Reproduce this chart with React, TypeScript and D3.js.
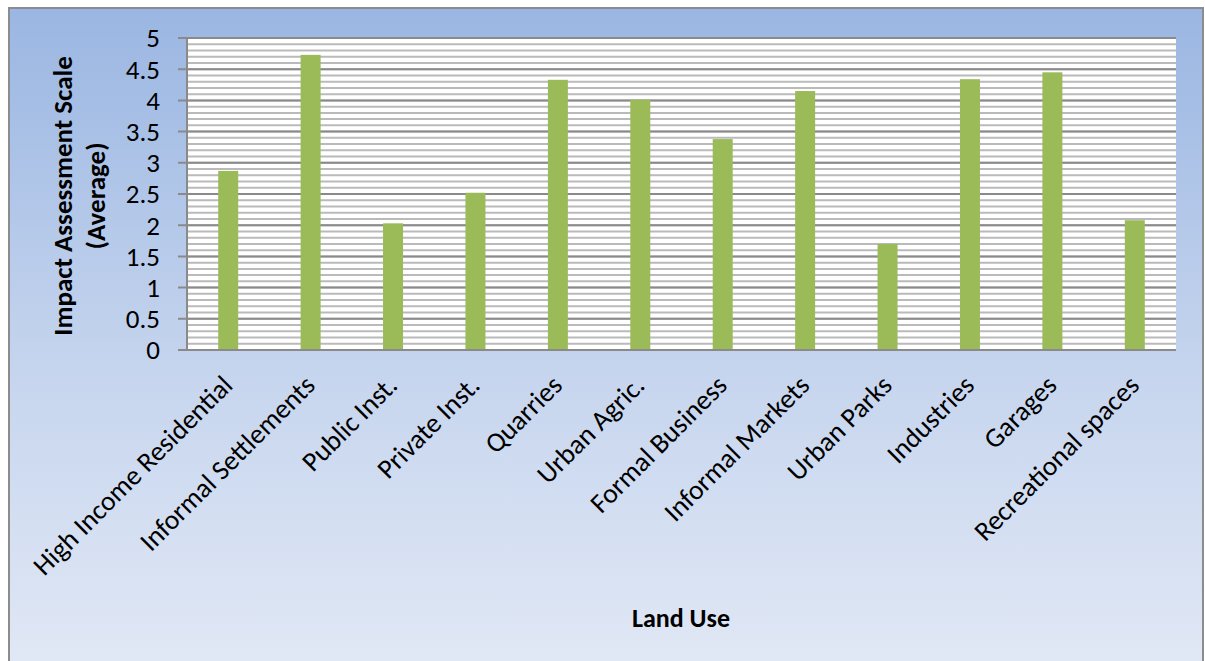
import React from 'react';
import * as d3 from 'd3';

const categories = [
  'High Income Residential',
  'Informal Settlements',
  'Public Inst.',
  'Private Inst.',
  'Quarries',
  'Urban Agric.',
  'Formal Business',
  'Informal Markets',
  'Urban Parks',
  'Industries',
  'Garages',
  'Recreational spaces',
];
const values = [2.87, 4.73, 2.03, 2.52, 4.33, 4.01, 3.38, 4.15, 1.7, 4.34, 4.45, 2.08];
const yTicks = [0, 0.5, 1, 1.5, 2, 2.5, 3, 3.5, 4, 4.5, 5];
const minorTicks = d3.range(0, 51).map((i) => i * 0.1);

const W = 1205;
const H = 661;
const plot = { left: 187, top: 38, right: 1176, bottom: 350 };
const font = "Carlito, Calibri, 'Open Sans', sans-serif";

const App: React.FC = () => {
  const x = d3
    .scaleBand<string>()
    .domain(categories)
    .range([plot.left, plot.right]);
  const y = d3.scaleLinear().domain([0, 5]).range([plot.bottom, plot.top]);
  const barW = 20;

  return (
    <svg width={W} height={H} style={{ position: 'absolute', left: 0, top: 0 }}>
      <defs>
        <linearGradient id="bg" x1="0" y1="0" x2="0" y2="1">
          <stop offset="0" stopColor="#9AB6E2" />
          <stop offset="0.55" stopColor="#C6D5EE" />
          <stop offset="1" stopColor="#E1E8F5" />
        </linearGradient>
      </defs>
      <rect x={0} y={0} width={W} height={H} fill="#fff" />
      <rect x={9} y={8} width={1194} height={H} fill="url(#bg)" stroke="#8C8C8C" strokeWidth={2} />
      <rect x={plot.left} y={plot.top} width={plot.right - plot.left} height={plot.bottom - plot.top} fill="#fff" />
      {minorTicks.map((t, i) => (
        <line key={'m' + i} x1={plot.left} x2={plot.right} y1={y(t)} y2={y(t)} stroke="#BABABA" strokeWidth={2} />
      ))}
      {yTicks.map((t) => (
        <line key={'g' + t} x1={plot.left - 9} x2={plot.right} y1={y(t)} y2={y(t)} stroke="#8A8A8A" strokeWidth={2} />
      ))}
      <line x1={plot.left} x2={plot.left} y1={plot.top} y2={plot.bottom} stroke="#8A8A8A" strokeWidth={2} />
      {categories.map((c, i) => (
        <rect
          key={c}
          x={x(c)! + x.bandwidth() / 2 - barW / 2}
          y={y(values[i])}
          width={barW}
          height={plot.bottom - y(values[i])}
          fill="#9BBB59"
        />
      ))}
      <line x1={plot.left - 9} x2={plot.right} y1={plot.bottom} y2={plot.bottom} stroke="#8A8A8A" strokeWidth={2} />
      {yTicks.map((t) => (
        <text key={'t' + t} x={plot.left - 27} y={y(t)} dy="0.35em" textAnchor="end" fontFamily={font} fontSize={27} fill="#000">
          {t}
        </text>
      ))}
      {categories.map((c) => {
        const cx = x(c)! + x.bandwidth() / 2 + 6;
        const cy = plot.bottom + 37;
        return (
          <text
            key={'l' + c}
            x={cx}
            y={cy}
            textAnchor="end"
            fontFamily={font}
            fontSize={27.5}
            transform={`rotate(-45 ${cx} ${cy})`}
          >
            {c}
          </text>
        );
      })}
      <text
        transform="translate(72 196) rotate(-90)"
        textAnchor="middle"
        fontFamily={font}
        fontSize={27}
        fontWeight="bold"
      >
        <tspan x={0} dy={0}>Impact Assessment Scale</tspan>
        <tspan x={0} dy={33}>(Average)</tspan>
      </text>
      <text x={681} y={627} textAnchor="middle" fontFamily={font} fontSize={26} fontWeight="bold">
        Land Use
      </text>
    </svg>
  );
};

export default App;
